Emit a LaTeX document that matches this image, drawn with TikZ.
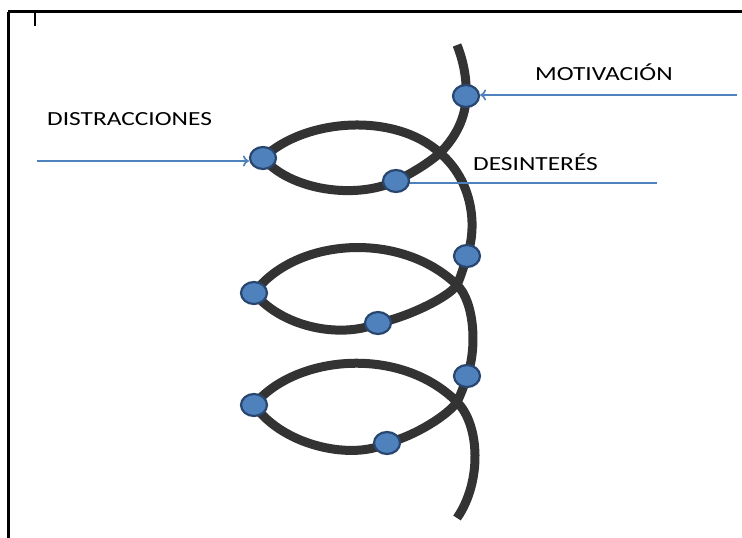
\documentclass[tikz,border=0pt]{standalone}
\usepackage{fontspec}
\setmainfont{Carlito}
\newfontfamily\lblfont[FakeStretch=1.27]{Carlito}
\usetikzlibrary{shapes.geometric,arrows.meta}
\definecolor{helix}{RGB}{51,51,51}
\definecolor{dotfill}{RGB}{79,129,189}
\definecolor{dotline}{RGB}{40,70,110}
\definecolor{arrowblue}{RGB}{79,129,189}
\tikzset{
  helixline/.style={draw=helix, line width=9pt, line join=round},
  dotnode/.style={ellipse, fill=dotfill, draw=dotline, line width=2.2pt,
    minimum width=26pt, minimum height=22pt, inner sep=0pt},
  lbl/.style={font=\lblfont\fontsize{20pt}{24pt}\selectfont, inner sep=0pt,
    anchor=base west, text=black},
  arr/.style={draw=arrowblue, line width=1.7pt, -{To[length=6pt,width=11pt]}},
  plainline/.style={draw=arrowblue, line width=1.7pt},
  frameline/.style={draw=black}
}
\begin{document}
\begin{tikzpicture}[x=1pt,y=-1pt]
\useasboundingbox (0,0) rectangle (742,538);
% frame
\draw[frameline, line width=2.2pt] (8.5,538) -- (8.5,11.5);
\draw[frameline, line width=3pt] (7.5,11.5) -- (742,11.5);
\draw[frameline, line width=2.8pt] (35,11.5) -- (35,26);
% helix positions
\coordinate (s) at (457,45);
\coordinate (c1) at (440,153);
\coordinate (c2) at (457,285);
\coordinate (c3) at (457,402);
\coordinate (e) at (457,518);
\coordinate (p1) at (466,96);
\coordinate (p2) at (263,158);
\coordinate (p3) at (396,181);
\coordinate (p4) at (467,256);
\coordinate (p5) at (254,293);
\coordinate (p6) at (378,323);
\coordinate (p7) at (467,376);
\coordinate (p8) at (254,405);
\coordinate (p9) at (387,443);
\draw[helixline] (s) .. controls (463,60) and (467,78) .. (p1)
  .. controls (466,118) and (455,138) .. (c1)
  .. controls (426,165) and (410,174) .. (p3)
  .. controls (355,200) and (290,190) .. (p2)
  .. controls (305,118) and (395,112) .. (c1)
  .. controls (472,180) and (478,225) .. (p4)
  .. controls (464,266) and (461,276) .. (c2)
  .. controls (448,298) and (405,318) .. (p6)
  .. controls (345,338) and (285,330) .. (p5)
  .. controls (295,238) and (400,230) .. (c2)
  .. controls (475,302) and (477,350) .. (p7)
  .. controls (464,386) and (461,394) .. (c3)
  .. controls (448,415) and (415,436) .. (p9)
  .. controls (355,460) and (285,448) .. (p8)
  .. controls (295,355) and (400,345) .. (c3)
  .. controls (480,425) and (482,482) .. (e);
% labels
\node[lbl] (mot) at (535,80) {MOTIVACIÓN};
\node[lbl] (dis) at (47,125) {DISTRACCIONES};
\node[lbl] (des) at (473,170) {DESINTERÉS};
% connectors
\coordinate (mstart) at (737,95);
\coordinate (dstart) at (37,161);
\coordinate (dend) at (657,183);
\draw[plainline] (dend -| p3) -- (dend);
% dots
\foreach \i in {1,...,9} { \node[dotnode] (d\i) at (p\i) {}; }
\draw[arr] (mstart) -- (mstart -| d1.east);
\draw[arr] (dstart) -- (dstart -| d2.west);
\end{tikzpicture}
\end{document}
